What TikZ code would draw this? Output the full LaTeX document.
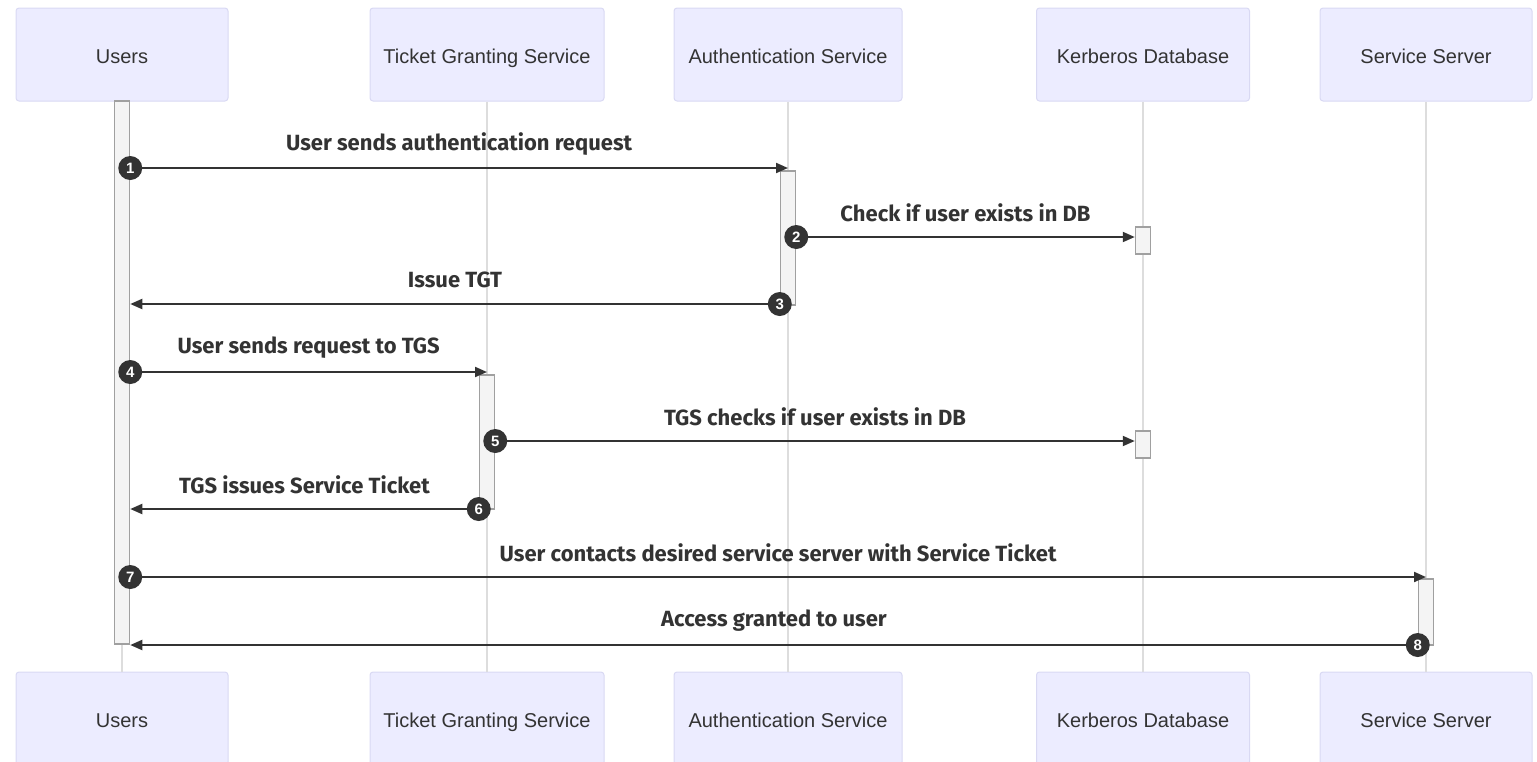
\documentclass[tikz,border=0pt]{standalone}
\usepackage{fontspec}
\setmainfont{Liberation Sans}
\newfontfamily\msgfont{Fira Sans}
\usetikzlibrary{arrows.meta}
\pgfdeclarelayer{front}
\pgfsetlayers{main,front}
\definecolor{boxfill}{HTML}{ECECFF}
\definecolor{boxline}{HTML}{D9D9F3}
\definecolor{ink}{HTML}{333333}
\definecolor{lifegray}{HTML}{DDDDDD}
\definecolor{barfill}{HTML}{F4F4F4}
\definecolor{barline}{HTML}{A0A0A0}

\begin{document}
\begin{tikzpicture}[x=1pt,y=-1pt,>={Triangle[length=12pt,width=10pt]},
  actor/.style={draw=boxline,fill=boxfill,rounded corners=3pt,line width=1pt,
    minimum height=93pt,text=ink,text height=17pt,text depth=0pt,
    font=\fontsize{20}{22}\selectfont},
  lifeline/.style={draw=lifegray,line width=1.5pt},
  bar/.style={draw=barline,fill=barfill,line width=1.5pt,minimum width=15pt,inner sep=0pt},
  seqno/.style={circle,fill=ink,text=white,minimum size=24pt,inner sep=0pt,
    font=\bfseries\fontsize{15}{15}\selectfont},
  msg/.style={draw=ink,line width=2pt,->},
  msglbl/.style={midway,yshift=24pt,text=ink,font=\msgfont\bfseries\fontsize{22}{24}\selectfont}]
\useasboundingbox (0,0) rectangle (1537,761);
% ---------- participants ----------
\node[actor,minimum width=212] (usersT) at (122,54.5) {Users};
\node[actor,minimum width=234] (tgsT) at (487,54.5) {Ticket Granting Service};
\node[actor,minimum width=228] (asT) at (788,54.5) {Authentication Service};
\node[actor,minimum width=213] (kdbT) at (1143,54.5) {Kerberos Database};
\node[actor,minimum width=212] (ssT) at (1426,54.5) {Service Server};
\node[actor,minimum width=212] (usersB) at (122,718.5) {Users};
\node[actor,minimum width=234] (tgsB) at (487,718.5) {Ticket Granting Service};
\node[actor,minimum width=228] (asB) at (788,718.5) {Authentication Service};
\node[actor,minimum width=213] (kdbB) at (1143,718.5) {Kerberos Database};
\node[actor,minimum width=212] (ssB) at (1426,718.5) {Service Server};
% ---------- lifelines ----------
\draw[lifeline] (usersT) -- (usersB);
\draw[lifeline] (tgsT) -- (tgsB);
\draw[lifeline] (asT) -- (asB);
\draw[lifeline] (kdbT) -- (kdbB);
\draw[lifeline] (ssT) -- (ssB);
% ---------- activations ----------
\node[bar,minimum height=543] (actU) at (122,372.5) {};
\node[bar,minimum height=134] (actA) at (788,238) {};
\node[bar,minimum height=27] (actK1) at (1143,240.5) {};
\node[bar,minimum height=134] (actT) at (487,442) {};
\node[bar,minimum height=27] (actK2) at (1143,444.5) {};
\node[bar,minimum height=66] (actS) at (1426,612) {};
% ---------- step numbers ----------
\begin{pgfonlayer}{front}
\node[seqno] (n1) at (actU.east |- 0,168) {1};
\node[seqno] (n2) at (actA.east |- 0,237) {2};
\node[seqno] (n3) at (actA.west |- 0,304) {3};
\node[seqno] (n4) at (actU.east |- 0,372) {4};
\node[seqno] (n5) at (actT.east |- 0,441) {5};
\node[seqno] (n6) at (actT.west |- 0,509) {6};
\node[seqno] (n7) at (actU.east |- 0,577) {7};
\node[seqno] (n8) at (actS.west |- 0,645) {8};
\end{pgfonlayer}
% ---------- messages ----------
\draw[msg] (n1.center) -- node[msglbl] {User sends authentication request} (asT.south |- n1.center);
\draw[msg] (n2.center) -- node[msglbl] {Check if user exists in DB} (actK1.west |- n2.center);
\draw[msg] (n3.center) -- node[msglbl] {Issue TGT} (actU.east |- n3.center);
\draw[msg] (n4.center) -- node[msglbl] {User sends request to TGS} (tgsT.south |- n4.center);
\draw[msg] (n5.center) -- node[msglbl] {TGS checks if user exists in DB} (actK2.west |- n5.center);
\draw[msg] (n6.center) -- node[msglbl] {TGS issues Service Ticket} (actU.east |- n6.center);
\draw[msg] (n7.center) -- node[msglbl] {User contacts desired service server with Service Ticket} (ssT.south |- n7.center);
\draw[msg] (n8.center) -- node[msglbl] {Access granted to user} (actU.east |- n8.center);
\end{tikzpicture}
\end{document}
